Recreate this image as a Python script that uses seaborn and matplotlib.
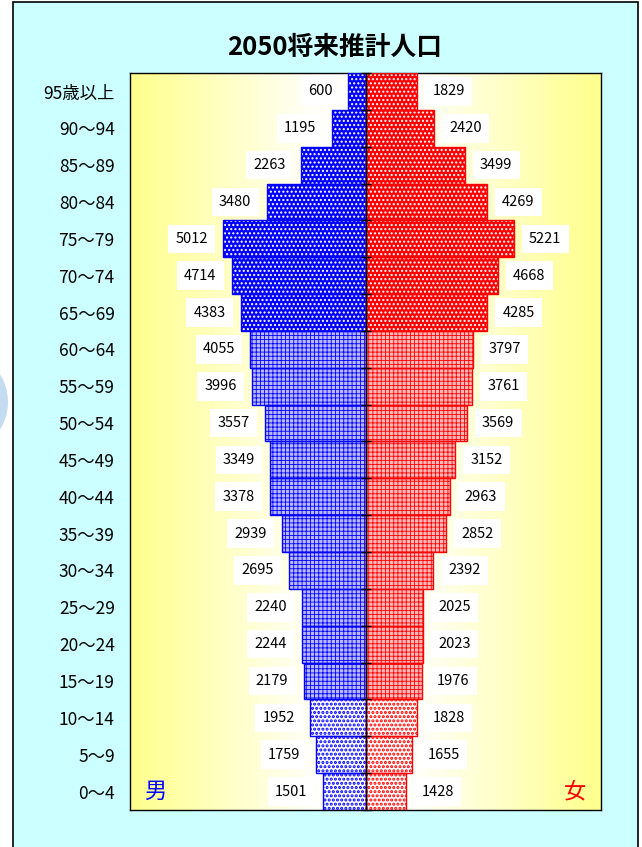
import numpy as np
import seaborn as sns
import matplotlib.pyplot as plt
from matplotlib.colors import LinearSegmentedColormap
from matplotlib.patches import Rectangle, Ellipse

# 2050 projected population by age group (top row = oldest)
ages = ["95歳以上", "90～94", "85～89", "80～84", "75～79", "70～74", "65～69",
        "60～64", "55～59", "50～54", "45～49", "40～44", "35～39", "30～34",
        "25～29", "20～24", "15～19", "10～14", "5～9", "0～4"]
male = [600, 1195, 2263, 3480, 5012, 4714, 4383, 4055, 3996, 3557,
        3349, 3378, 2939, 2695, 2240, 2244, 2179, 1952, 1759, 1501]
female = [1829, 2420, 3499, 4269, 5221, 4668, 4285, 3797, 3761, 3569,
          3152, 2963, 2852, 2392, 2025, 2023, 1976, 1828, 1655, 1428]
bands = ["65+"] * 7 + ["15-64"] * 10 + ["0-14"] * 3

sns.set_theme(style="white")
plt.rcParams["font.family"] = ["Noto Sans CJK JP", "DejaVu Sans"]
plt.rcParams["text.color"] = "black"
plt.rcParams["hatch.linewidth"] = 1.0

fig = plt.figure(figsize=(6.42, 8.47), dpi=100, facecolor="white")

# outer light-cyan chart area and the stray shape at the left edge
fig.patches.append(Rectangle((13 / 642, -0.01), 625 / 642, 1.01 - 2 / 847,
                             transform=fig.transFigure, fc="#CCFFFF",
                             ec="black", lw=1.2, zorder=-1))
fig.patches.append(Ellipse((-30 / 642, 1 - 402 / 847), 76 / 642, 90 / 847,
                           transform=fig.transFigure, fc="#C4DCF2",
                           ec="none", zorder=-2))

ax = fig.add_axes([130 / 642, 1 - 810 / 847, 471 / 642, 737 / 847])

lim = 8300
sns.barplot(x=[-v for v in male], y=ages, orient="h", width=1.0,
            color="blue", ax=ax)
sns.barplot(x=female, y=ages, orient="h", width=1.0, color="red", ax=ax)

# yellow-white-yellow background
grad = np.abs(np.linspace(-1, 1, 400)).reshape(1, -1)
cmap = LinearSegmentedColormap.from_list(
    "bg", [(0, "white"), (0.18, "white"), (1, "#FFFF8C")])
ax.imshow(grad, extent=[-lim, lim, len(ages) - 0.5, -0.5], aspect="auto",
          cmap=cmap, vmin=0, vmax=1, zorder=0)

# face colour, hatch colour, hatch, hatch width per age band
styles = {
    "65+": lambda c: (c, "white", "....", 1.0),
    "15-64": lambda c: ("#B8B8FF" if c == "blue" else "#FFB8B8", c, "++++", 0.6),
    "0-14": lambda c: ("white", c, "....", 1.5),
}

n = len(ages)
for k, p in enumerate(ax.patches[:2 * n]):
    base = "blue" if k < n else "red"
    fc, hc, hatch, hw = styles[bands[k % n]](base)
    p.set_facecolor(fc)
    p.set_edgecolor(hc)
    p.set_hatch(hatch)
    if hasattr(p, "set_hatch_linewidth"):
        p.set_hatch_linewidth(hw)
    p.set_linewidth(0)
    p.set_zorder(2)
    ax.add_patch(Rectangle(p.get_xy(), p.get_width(), p.get_height(),
                           fill=False, ec=base, lw=1, zorder=3))

# centre axis with tick marks at row boundaries
ax.axvline(0, color="black", lw=1, zorder=4)
ax.plot(np.zeros(n + 1), np.arange(n + 1) - 0.5, ls="none", marker="_",
        ms=7, mew=1, color="black", zorder=4, clip_on=False)

box = dict(boxstyle="square,pad=0.5", fc="white", ec="none")
for i in range(n):
    ax.annotate(str(male[i]), xy=(-male[i], i), xytext=(-11, 0),
                textcoords="offset points", ha="right", va="center",
                fontsize=10.5, color="black", bbox=box, zorder=5)
    ax.annotate(str(female[i]), xy=(female[i], i), xytext=(11, 0),
                textcoords="offset points", ha="left", va="center",
                fontsize=10.5, color="black", bbox=box, zorder=5)

ax.text(0.053, n - 1, "男", color="blue", fontsize=16, ha="center",
        va="center", transform=ax.get_yaxis_transform(), zorder=5)
ax.text(0.945, n - 1, "女", color="red", fontsize=16, ha="center",
        va="center", transform=ax.get_yaxis_transform(), zorder=5)

ax.set_xlim(-lim, lim)
ax.set_ylim(n - 0.5, -0.5)
ax.set_xticks([])
ax.set_xlabel("")
ax.set_ylabel("")
ax.tick_params(axis="y", length=0, pad=11, labelsize=12.5, labelcolor="black")
for s in ax.spines.values():
    s.set_visible(True)
    s.set_color("black")
    s.set_linewidth(1)

fig.text(335 / 642, 1 - 47 / 847, "2050将来推計人口", fontsize=18.5,
         fontweight="bold", color="black", ha="center", va="center")

fig.savefig("out.png", dpi=100, facecolor=fig.get_facecolor())
